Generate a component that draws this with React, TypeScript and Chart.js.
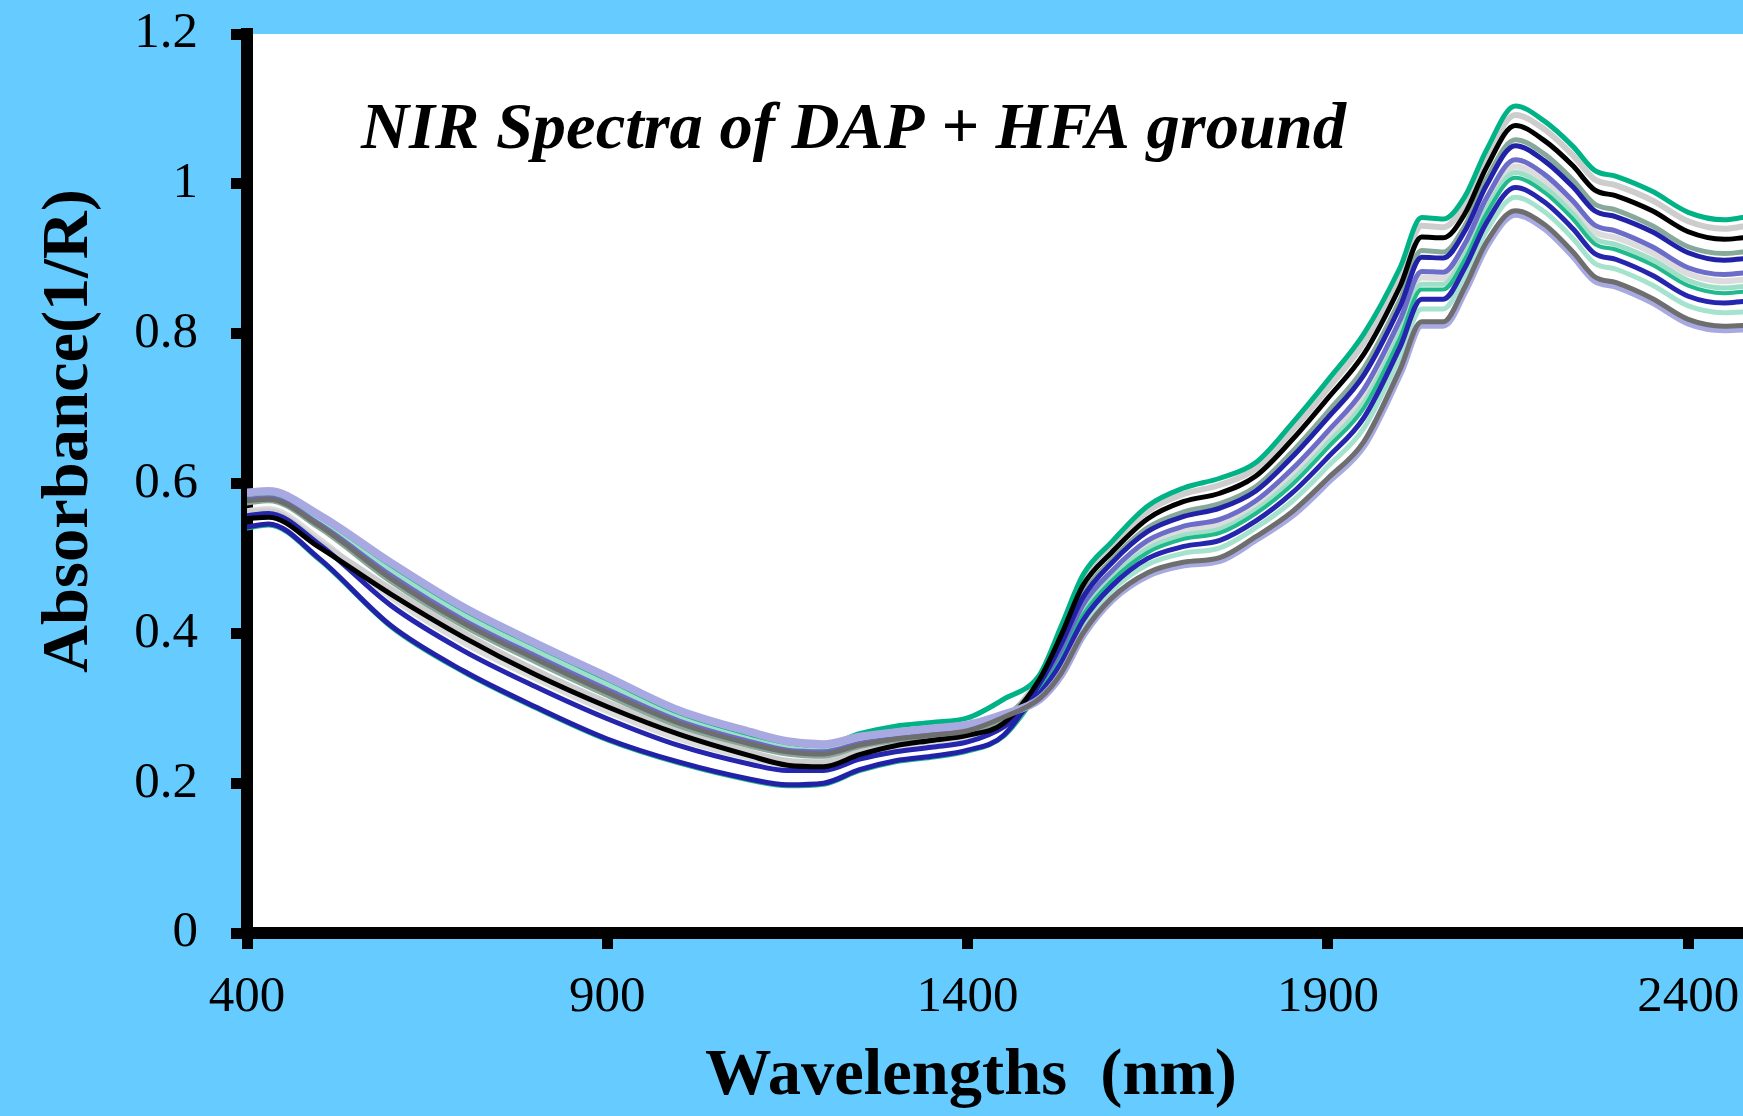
import { useEffect, useRef } from 'react';
import { Chart, registerables } from 'chart.js';

Chart.register(...registerables);

// ---------------- data ----------------
const wavelengths = [
  400, 430, 500, 600, 700, 800, 900, 1000, 1100, 1150, 1200, 1250, 1300, 1350, 1400,
  1450,
  1500, 1530, 1560, 1600, 1650, 1700, 1750, 1800, 1850, 1900, 1950, 2000, 2030, 2060,
  2090, 2120, 2160, 2200, 2240, 2270, 2300, 2350, 2400, 2450, 2476,
];

const sampleGreen = [
  0.586, 0.588, 0.556, 0.491, 0.432, 0.384, 0.339, 0.294, 0.265, 0.254, 0.250, 0.266, 0.276, 0.281, 0.287,
  0.312,
  0.345, 0.410, 0.478, 0.522, 0.570, 0.594, 0.607, 0.628, 0.680, 0.738, 0.800, 0.888, 0.955, 0.953,
  0.983, 1.045, 1.104, 1.084, 1.050, 1.018, 1.010, 0.990, 0.962, 0.952, 0.955,
];
const sampleLightGray = [
  0.562, 0.563, 0.522, 0.459, 0.401, 0.351, 0.308, 0.271, 0.241, 0.230, 0.228, 0.243, 0.255, 0.262, 0.269,
  0.284,
  0.342, 0.405, 0.472, 0.516, 0.563, 0.586, 0.598, 0.620, 0.670, 0.727, 0.788, 0.877, 0.944, 0.942,
  0.973, 1.035, 1.092, 1.073, 1.038, 1.006, 0.998, 0.978, 0.950, 0.940, 0.943,
];
const sampleBlack = [
  0.553, 0.555, 0.515, 0.452, 0.395, 0.345, 0.302, 0.265, 0.236, 0.224, 0.222, 0.238, 0.250, 0.257, 0.264,
  0.280,
  0.339, 0.398, 0.464, 0.508, 0.553, 0.576, 0.587, 0.610, 0.658, 0.714, 0.773, 0.863, 0.929, 0.928,
  0.960, 1.022, 1.078, 1.058, 1.024, 0.992, 0.984, 0.964, 0.936, 0.926, 0.928,
];
const sampleGrayGreen = [
  0.574, 0.577, 0.541, 0.469, 0.410, 0.362, 0.317, 0.276, 0.249, 0.239, 0.236, 0.249, 0.257, 0.262, 0.268,
  0.287,
  0.335, 0.390, 0.453, 0.498, 0.541, 0.562, 0.573, 0.596, 0.642, 0.696, 0.754, 0.845, 0.911, 0.909,
  0.944, 1.006, 1.059, 1.040, 1.005, 0.973, 0.965, 0.944, 0.916, 0.907, 0.909,
];
const sampleBlue1 = [
  0.542, 0.546, 0.500, 0.410, 0.350, 0.302, 0.259, 0.228, 0.205, 0.198, 0.200, 0.218, 0.230, 0.236, 0.244,
  0.264,
  0.333, 0.386, 0.448, 0.494, 0.536, 0.556, 0.567, 0.590, 0.635, 0.688, 0.745, 0.836, 0.902, 0.901,
  0.937, 0.998, 1.051, 1.031, 0.996, 0.964, 0.956, 0.936, 0.908, 0.898, 0.900,
];
const samplePurple = [
  0.579, 0.581, 0.546, 0.477, 0.418, 0.370, 0.325, 0.283, 0.255, 0.244, 0.242, 0.253, 0.260, 0.266, 0.271,
  0.289,
  0.328, 0.377, 0.438, 0.483, 0.524, 0.543, 0.552, 0.577, 0.619, 0.670, 0.726, 0.818, 0.883, 0.882,
  0.920, 0.981, 1.032, 1.013, 0.977, 0.945, 0.937, 0.916, 0.888, 0.879, 0.881,
];
const sampleLightGray2 = [
  0.563, 0.566, 0.526, 0.448, 0.388, 0.340, 0.296, 0.259, 0.233, 0.224, 0.223, 0.238, 0.247, 0.253, 0.259,
  0.281,
  0.327, 0.374, 0.433, 0.479, 0.518, 0.537, 0.546, 0.571, 0.612, 0.662, 0.717, 0.810, 0.875, 0.874,
  0.913, 0.974, 1.023, 1.004, 0.969, 0.936, 0.928, 0.908, 0.880, 0.870, 0.872,
];
const sampleMint1 = [
  0.582, 0.585, 0.551, 0.484, 0.425, 0.377, 0.332, 0.289, 0.260, 0.249, 0.246, 0.257, 0.263, 0.269, 0.274,
  0.290,
  0.325, 0.370, 0.428, 0.474, 0.513, 0.531, 0.539, 0.565, 0.604, 0.654, 0.708, 0.801, 0.866, 0.866,
  0.905, 0.966, 1.015, 0.996, 0.960, 0.927, 0.919, 0.899, 0.871, 0.861, 0.863,
];
const sampleTeal = [
  0.540, 0.544, 0.498, 0.408, 0.348, 0.300, 0.257, 0.226, 0.203, 0.196, 0.198, 0.216, 0.228, 0.234, 0.242,
  0.262,
  0.323, 0.366, 0.424, 0.470, 0.508, 0.526, 0.534, 0.560, 0.598, 0.648, 0.701, 0.794, 0.859, 0.859,
  0.899, 0.960, 1.008, 0.989, 0.953, 0.920, 0.912, 0.892, 0.864, 0.854, 0.856,
];
const sampleBlue2 = [
  0.557, 0.560, 0.519, 0.437, 0.377, 0.329, 0.286, 0.250, 0.225, 0.217, 0.217, 0.232, 0.242, 0.248, 0.255,
  0.275,
  0.320, 0.361, 0.417, 0.463, 0.500, 0.516, 0.524, 0.550, 0.587, 0.635, 0.688, 0.782, 0.846, 0.846,
  0.888, 0.948, 0.995, 0.976, 0.940, 0.907, 0.899, 0.878, 0.850, 0.841, 0.843,
];
const sampleMint2 = [
  0.585, 0.587, 0.555, 0.489, 0.430, 0.382, 0.337, 0.293, 0.264, 0.253, 0.249, 0.259, 0.266, 0.271, 0.276,
  0.291,
  0.317, 0.355, 0.410, 0.457, 0.492, 0.507, 0.514, 0.541, 0.576, 0.623, 0.674, 0.769, 0.833, 0.833,
  0.877, 0.937, 0.982, 0.963, 0.927, 0.894, 0.886, 0.865, 0.837, 0.828, 0.829,
];
const sampleGray = [
  0.577, 0.579, 0.544, 0.473, 0.414, 0.366, 0.321, 0.280, 0.252, 0.242, 0.239, 0.251, 0.259, 0.264, 0.270,
  0.288,
  0.313, 0.347, 0.400, 0.447, 0.481, 0.495, 0.501, 0.529, 0.562, 0.607, 0.656, 0.752, 0.816, 0.816,
  0.862, 0.922, 0.964, 0.946, 0.909, 0.876, 0.868, 0.847, 0.819, 0.810, 0.811,
];
const sampleLavender = [
  0.588, 0.590, 0.558, 0.494, 0.435, 0.387, 0.342, 0.297, 0.268, 0.256, 0.252, 0.262, 0.268, 0.273, 0.278,
  0.292,
  0.312, 0.345, 0.398, 0.445, 0.478, 0.492, 0.498, 0.526, 0.558, 0.603, 0.652, 0.748, 0.812, 0.812,
  0.858, 0.918, 0.960, 0.942, 0.905, 0.872, 0.864, 0.843, 0.815, 0.806, 0.807,
];

const xTickValues = [400, 900, 1400, 1900, 2400];
const yTickValues = [0, 0.2, 0.4, 0.6, 0.8, 1, 1.2];

const chartTitle = 'NIR Spectra of DAP + HFA ground';
const xTitle = 'Wavelengths  (nm)';
const yTitle = 'Absorbance(1/R)';

// first entry is drawn on top
const seriesList = [
  { name: 'S12', values: sampleGray, color: '#6E6E6E', width: 5 },
  { name: 'S13', values: sampleLavender, color: '#A9A9E2', width: 8 },
  { name: 'S3', values: sampleBlack, color: '#000000', width: 5 },
  { name: 'S5', values: sampleBlue1, color: '#2222A8', width: 5 },
  { name: 'S10', values: sampleBlue2, color: '#2525AE', width: 5 },
  { name: 'S9', values: sampleTeal, color: '#22B98C', width: 4 },
  { name: 'S1', values: sampleGreen, color: '#00B386', width: 5 },
  { name: 'S4', values: sampleGrayGreen, color: '#86A99A', width: 5 },
  { name: 'S6', values: samplePurple, color: '#6C6CC9', width: 5 },
  { name: 'S8', values: sampleMint1, color: '#9EDFC8', width: 5 },
  { name: 'S2', values: sampleLightGray, color: '#CDCDCD', width: 6 },
  { name: 'S7', values: sampleLightGray2, color: '#DCDCDC', width: 6 },
  { name: 'S11', values: sampleMint2, color: '#A6E3CE', width: 5 },
];

const FONT = '"Liberation Serif", "Times New Roman", serif';

const decorPlugin = {
  id: 'decor',
  beforeDraw(chart: any) {
    const { ctx, chartArea } = chart;
    ctx.save();
    ctx.fillStyle = '#66CCFF';
    ctx.fillRect(0, 0, chart.width, chart.height);
    ctx.fillStyle = '#FFFFFF';
    ctx.fillRect(chartArea.left, chartArea.top, chartArea.right - chartArea.left, chartArea.bottom - chartArea.top);
    ctx.restore();
  },
  afterDraw(chart: any) {
    const { ctx, chartArea } = chart;
    ctx.save();
    ctx.fillStyle = '#000000';
    ctx.fillRect(chartArea.left - 6, chartArea.bottom - 6, 12, 12);
    ctx.font = `italic bold 66.5px ${FONT}`;
    ctx.textAlign = 'left';
    ctx.textBaseline = 'alphabetic';
    ctx.fillText(chartTitle, chartArea.left + 114, chartArea.top + 114);
    ctx.font = `bold 66.5px ${FONT}`;
    ctx.textAlign = 'center';
    ctx.fillText(xTitle, 971, 1094);
    ctx.translate(87, 431);
    ctx.rotate(-Math.PI / 2);
    ctx.font = `bold 66.5px ${FONT}`;
    ctx.fillText(yTitle, 0, 0);
    ctx.restore();
  },
};

export default function App() {
  const ref = useRef<HTMLCanvasElement>(null);
  useEffect(() => {
    document.body.style.margin = '0';
    const tickFont = { family: FONT, size: 51, weight: 'normal' as const };
    const chart = new Chart(ref.current!, {
      type: 'line',
      data: {
        datasets: seriesList.map((s) => ({
          label: s.name,
          data: s.values.map((v, i) => ({ x: wavelengths[i], y: v })),
          borderColor: s.color,
          backgroundColor: s.color,
          borderWidth: s.width,
          pointRadius: 0,
          fill: false,
          cubicInterpolationMode: 'monotone' as const,
          borderJoinStyle: 'round' as const,
          borderCapStyle: 'round' as const,
        })),
      },
      options: {
        animation: false,
        responsive: false,
        devicePixelRatio: 1,
        layout: { padding: { top: 34, left: 0, right: 0, bottom: 0 } },
        plugins: { legend: { display: false }, tooltip: { enabled: false }, title: { display: false } },
        events: [],
        scales: {
          x: {
            type: 'linear',
            min: 400,
            max: 2476,
            afterBuildTicks: (s: any) => {
              s.ticks = xTickValues.map((v) => ({ value: v }));
            },
            afterFit: (s: any) => {
              s.height = 183;
              s.paddingLeft = 0;
              s.paddingRight = 0;
            },
            ticks: {
              color: '#000000',
              font: tickFont,
              padding: 18,
              maxRotation: 0,
              minRotation: 0,
              autoSkip: false,
              callback: (v: any) => String(v),
            },
            grid: {
              drawOnChartArea: false,
              color: '#000000',
              tickColor: '#000000',
              lineWidth: 11,
              tickWidth: 11,
              tickLength: 16,
            },
            border: { display: true, color: '#000000', width: 12 },
          },
          y: {
            type: 'linear',
            min: 0,
            max: 1.2,
            afterBuildTicks: (s: any) => {
              s.ticks = yTickValues.map((v) => ({ value: v }));
            },
            afterFit: (s: any) => {
              s.width = 247;
              s.paddingTop = 0;
              s.paddingBottom = 0;
            },
            ticks: {
              color: '#000000',
              font: tickFont,
              padding: 33,
              autoSkip: false,
              callback: (v: any) => String(Math.round(v * 10) / 10),
            },
            grid: {
              drawOnChartArea: false,
              color: '#000000',
              tickColor: '#000000',
              lineWidth: 11,
              tickWidth: 11,
              tickLength: 16,
            },
            border: { display: true, color: '#000000', width: 12 },
          },
        },
      },
      plugins: [decorPlugin],
    } as any);
    return () => chart.destroy();
  }, []);
  return (
    <div style={{ position: 'fixed', left: 0, top: 0, width: 1743, height: 1116, background: '#66CCFF' }}>
      <canvas ref={ref} width={1743} height={1116} style={{ display: 'block', width: 1743, height: 1116 }} />
    </div>
  );
}
